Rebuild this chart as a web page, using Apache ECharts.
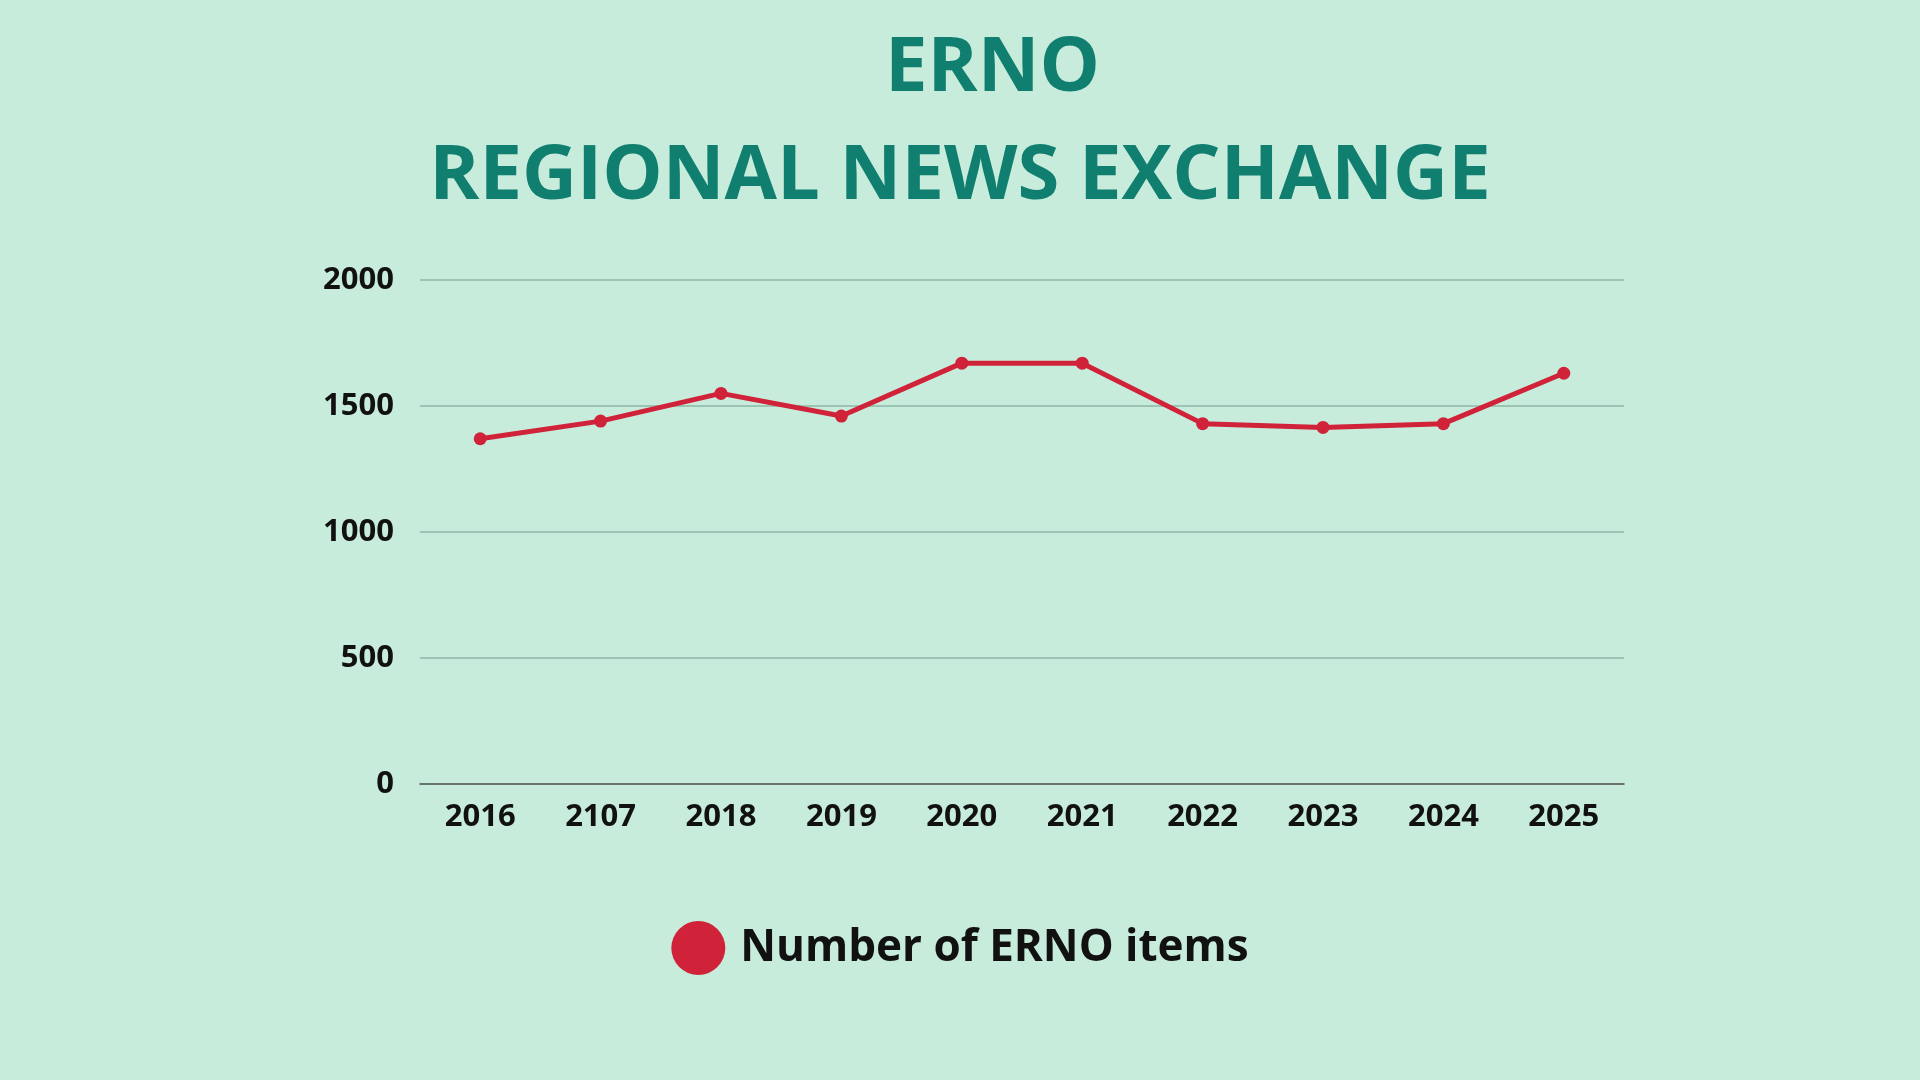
<!DOCTYPE html>
<html>
<head>
<meta charset="utf-8">
<script src="https://cdn.jsdelivr.net/npm/echarts@6/dist/echarts.min.js"></script>
<style>
  html, body { margin: 0; padding: 0; background: #c8ecdc; }
  #chart { width: 1920px; height: 1080px; }
</style>
</head>
<body>
<div id="chart"></div>
<script>
const years = ['2016', '2107', '2018', '2019', '2020', '2021', '2022', '2023', '2024', '2025'];
const items = [1370, 1440, 1550, 1460, 1670, 1670, 1430, 1415, 1430, 1630];
const seriesName = 'Number of ERNO items';

const chart = echarts.init(document.getElementById('chart'));
const font = '"Open Sans", Lato, sans-serif';
const titleStyle = { color: '#117f70', fontFamily: font, fontWeight: 'bold', fontSize: 76 };

chart.setOption({
    backgroundColor: '#c8ecdc',
    title: [
        { text: 'ERNO', left: 880, top: 26, textStyle: titleStyle },
        { text: 'REGIONAL NEWS EXCHANGE', left: 'center', top: 134, textStyle: titleStyle }
    ],
    legend: {
        bottom: 100,
        left: 'center',
        icon: 'circle',
        itemWidth: 54,
        itemHeight: 54,
        itemGap: 14,
        textStyle: { color: '#111', fontFamily: font, fontWeight: 'bold', fontSize: 44, padding: [0, 0, 0, 10] },
        data: [seriesName]
    },
    grid: { left: 420, right: 296, top: 280, bottom: 296 },
    xAxis: {
        type: 'category',
        data: years,
        boundaryGap: true,
        axisTick: { show: false },
        axisLine: { lineStyle: { color: '#555', width: 1.5 } },
        axisLabel: { color: '#111', fontFamily: font, fontWeight: 'bold', fontSize: 31, margin: 18 }
    },
    yAxis: {
        type: 'value',
        min: 0,
        max: 2000,
        interval: 500,
        axisLine: { show: false },
        axisTick: { show: false },
        splitLine: { lineStyle: { color: '#9cc4b4', width: 2 } },
        axisLabel: { color: '#111', fontFamily: font, fontWeight: 'bold', fontSize: 31, margin: 26, formatter: v => String(v) }
    },
    series: [{
        name: seriesName,
        type: 'line',
        data: items,
        color: '#d0233a',
        symbol: 'circle',
        symbolSize: 13,
        lineStyle: { width: 5, color: '#d0233a' },
        itemStyle: { color: '#d0233a' }
    }]
});
</script>
</body>
</html>
